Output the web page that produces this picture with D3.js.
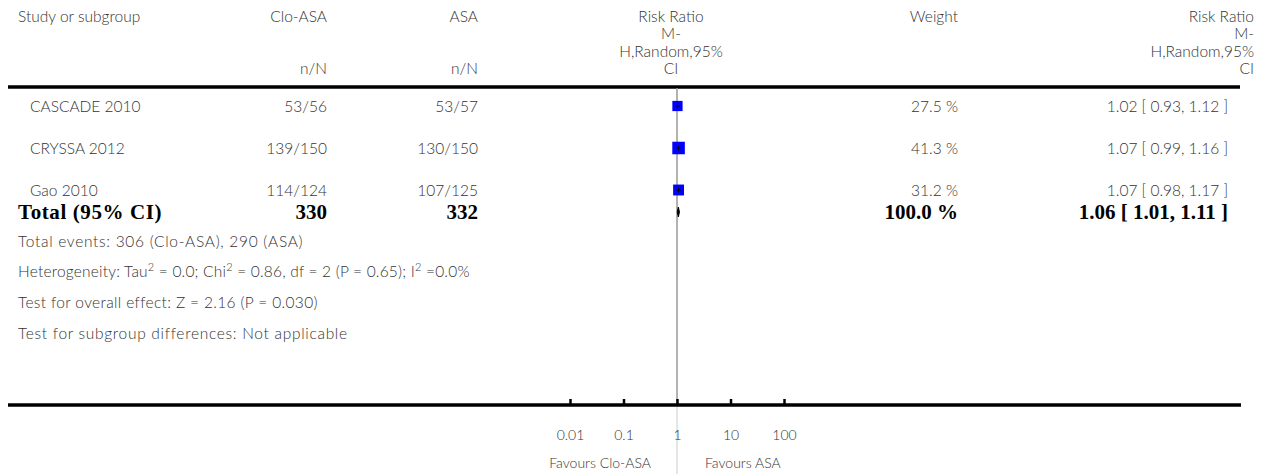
<!DOCTYPE html>
<html>
<head>
<meta charset="utf-8">
<script src="https://cdn.jsdelivr.net/npm/d3@7"></script>
<style>
  html, body { margin: 0; padding: 0; background: #fff; }
  svg { display: block; }
  .t { font-family: "Lato", "Open Sans", sans-serif; font-weight: 300; font-size: 15.5px; fill: #333; }
  .b { font-family: "Liberation Serif", "DejaVu Serif", serif; font-weight: bold; font-size: 21px; fill: #000; }
  .s { font-family: "Lato", "Open Sans", sans-serif; font-weight: 300; font-size: 14px; fill: #333; }
</style>
</head>
<body>
<svg id="chart" width="1270" height="474"></svg>
<script>
// ---- data ----
const studies = ["CASCADE 2010", "CRYSSA 2012", "Gao 2010"];
const cloEvents = [53, 139, 114];
const cloTotal = [56, 150, 124];
const asaEvents = [53, 130, 107];
const asaTotal = [57, 150, 125];
const weights = [27.5, 41.3, 31.2];
const rr = [1.02, 1.07, 1.07];
const rrLow = [0.93, 0.99, 0.98];
const rrHigh = [1.12, 1.16, 1.17];
const totalLabel = "Total (95% CI)";
const totalClo = 330;
const totalAsa = 332;
const totalWeight = "100.0 %";
const totalRR = 1.06, totalLow = 1.01, totalHigh = 1.11;
const tickValues = [0.01, 0.1, 1, 10, 100];
const tickLabels = ["0.01", "0.1", "1", "10", "100"];
const favourLeft = "Favours Clo-ASA";
const favourRight = "Favours ASA";

const svg = d3.select("#chart");
const f2 = d3.format(".2f");

// scales
const x = d3.scaleLog().domain([0.01, 100]).range([570, 784]);
const rowY = d3.scalePoint().domain(studies).range([106, 190]);
const sq = d3.scaleSqrt().domain([0, 100]).range([0, 19.5]);

const colStudy = 30, colLeft = 18, colClo = 327, colAsa = 478, colW = 958, colRR = 1228, colRRhead = 1254;

// header
svg.append("text").attr("class", "t").attr("x", colLeft).attr("y", 22).text("Study or subgroup");
svg.append("text").attr("class", "t").attr("x", colClo).attr("y", 22).attr("text-anchor", "end").text("Clo-ASA");
svg.append("text").attr("class", "t").attr("x", colAsa).attr("y", 22).attr("text-anchor", "end").text("ASA");
svg.append("text").attr("class", "t").attr("x", colClo).attr("y", 74).attr("text-anchor", "end").text("n/N");
svg.append("text").attr("class", "t").attr("x", colAsa).attr("y", 74).attr("text-anchor", "end").text("n/N");
const hdr = ["Risk Ratio", "M-", "H,Random,95%", "CI"];
hdr.forEach((h, i) => {
  svg.append("text").attr("class", "t").attr("x", 671).attr("y", 22 + i * 17.3).attr("text-anchor", "middle").text(h);
  svg.append("text").attr("class", "t").attr("x", colRRhead).attr("y", 22 + i * 17.3).attr("text-anchor", "end").text(h);
});
svg.append("text").attr("class", "t").attr("x", colW).attr("y", 22).attr("text-anchor", "end").text("Weight");

// top rule
svg.append("line").attr("x1", 8).attr("x2", 1240).attr("y1", 87).attr("y2", 87).attr("stroke", "#000").attr("stroke-width", 3.5);

// vertical line of no effect
svg.append("line").attr("x1", x(1)).attr("x2", x(1)).attr("y1", 88).attr("y2", 405).attr("stroke", "#999").attr("stroke-width", 1.5);
svg.append("line").attr("x1", x(1)).attr("x2", x(1)).attr("y1", 405).attr("y2", 474).attr("stroke", "#ddd").attr("stroke-width", 1.5);

// study rows
studies.forEach((s, i) => {
  const y = rowY(s);
  svg.append("text").attr("class", "t").attr("x", colStudy).attr("y", y + 6).text(s);
  svg.append("text").attr("class", "t").attr("x", colClo).attr("y", y + 6).attr("text-anchor", "end").text(cloEvents[i] + "/" + cloTotal[i]);
  svg.append("text").attr("class", "t").attr("x", colAsa).attr("y", y + 6).attr("text-anchor", "end").text(asaEvents[i] + "/" + asaTotal[i]);
  svg.append("text").attr("class", "t").attr("x", colW).attr("y", y + 6).attr("text-anchor", "end").text(weights[i].toFixed(1) + " %");
  svg.append("text").attr("class", "t").attr("x", colRR).attr("y", y + 6).attr("text-anchor", "end")
    .text(f2(rr[i]) + " [ " + f2(rrLow[i]) + ", " + f2(rrHigh[i]) + " ]");
  const side = sq(weights[i]);
  svg.append("rect").attr("x", x(rr[i]) - side / 2).attr("y", y - side / 2)
    .attr("width", side).attr("height", side).attr("fill", "#0000ff");
  svg.append("line").attr("x1", x(rrLow[i])).attr("x2", x(rrHigh[i])).attr("y1", y).attr("y2", y)
    .attr("stroke", "#000").attr("stroke-width", 1);
  svg.append("line").attr("x1", x(rr[i])).attr("x2", x(rr[i])).attr("y1", y - 2.5).attr("y2", y + 2.5)
    .attr("stroke", "#000").attr("stroke-width", 1);
});

// total row
const ty = 212;
svg.append("text").attr("class", "b").attr("x", colLeft).attr("y", ty + 7).attr("letter-spacing", 0.6).text(totalLabel);
svg.append("text").attr("class", "b").attr("x", colClo).attr("y", ty + 7).attr("text-anchor", "end").text(totalClo);
svg.append("text").attr("class", "b").attr("x", colAsa).attr("y", ty + 7).attr("text-anchor", "end").text(totalAsa);
svg.append("text").attr("class", "b").attr("x", colW).attr("y", ty + 7).attr("text-anchor", "end").text(totalWeight);
svg.append("text").attr("class", "b").attr("x", colRR).attr("y", ty + 7).attr("text-anchor", "end")
  .text(f2(totalRR) + " [ " + f2(totalLow) + ", " + f2(totalHigh) + " ]");
svg.append("path")
  .attr("d", `M${x(totalLow)},${ty} L${x(totalRR)},${ty - 5} L${x(totalHigh)},${ty} L${x(totalRR)},${ty + 5} Z`)
  .attr("fill", "#000").attr("stroke", "#000").attr("stroke-width", 1);

// footnotes
const foot = svg.append("g");
foot.append("text").attr("class", "t").attr("x", colLeft).attr("y", 247).attr("letter-spacing", 0.7)
  .text("Total events: 306 (Clo-ASA), 290 (ASA)");
const het = foot.append("text").attr("class", "t").attr("x", colLeft).attr("y", 277).attr("letter-spacing", 0.2);
het.append("tspan").text("Heterogeneity: Tau");
het.append("tspan").attr("dy", -6).attr("font-size", 11).text("2");
het.append("tspan").attr("dy", 6).text(" = 0.0; Chi");
het.append("tspan").attr("dy", -6).attr("font-size", 11).text("2");
het.append("tspan").attr("dy", 6).text(" = 0.86, df = 2 (P = 0.65); I");
het.append("tspan").attr("dy", -6).attr("font-size", 11).text("2");
het.append("tspan").attr("dy", 6).text(" =0.0%");
foot.append("text").attr("class", "t").attr("x", colLeft).attr("y", 308).attr("letter-spacing", 0.35)
  .text("Test for overall effect: Z = 2.16 (P = 0.030)");
foot.append("text").attr("class", "t").attr("x", colLeft).attr("y", 339).attr("letter-spacing", 0.7)
  .text("Test for subgroup differences: Not applicable");

// bottom axis
svg.append("line").attr("x1", 8).attr("x2", 1241).attr("y1", 405).attr("y2", 405).attr("stroke", "#000").attr("stroke-width", 3.5);
const axis = d3.axisBottom(x).tickValues(tickValues).tickFormat((d, i) => tickLabels[i])
  .tickSizeInner(-6).tickSizeOuter(0).tickPadding(25);
const ag = svg.append("g").attr("transform", "translate(0,405)").call(axis);
ag.select(".domain").remove();
ag.selectAll(".tick line").attr("stroke", "#000").attr("stroke-width", 2.5);
ag.selectAll(".tick text").attr("class", "s").attr("font-family", null).attr("font-size", null).attr("fill", null);

svg.append("text").attr("class", "s").attr("x", x(1) - 26).attr("y", 468).attr("text-anchor", "end").text(favourLeft);
svg.append("text").attr("class", "s").attr("x", x(1) + 28).attr("y", 468).text(favourRight);
</script>
</body>
</html>
